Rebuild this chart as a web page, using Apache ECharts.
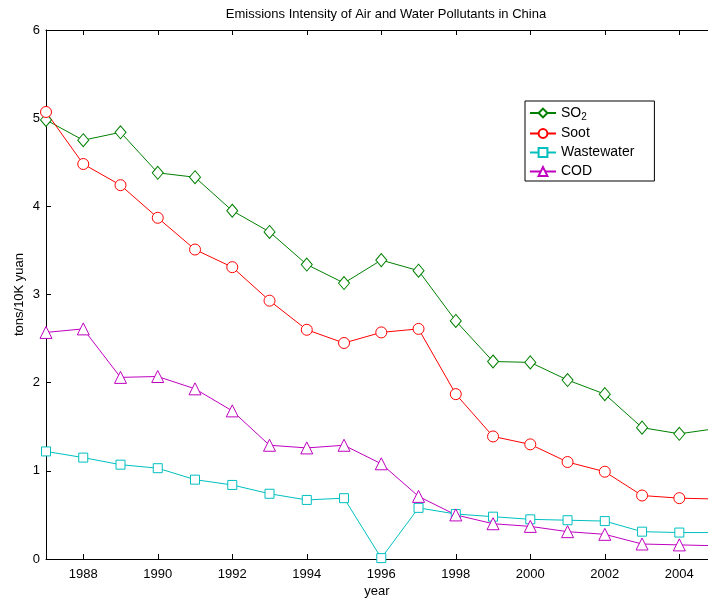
<!DOCTYPE html>
<html>
<head>
<meta charset="utf-8">
<title>Emissions Intensity</title>
<script src="https://cdn.jsdelivr.net/npm/echarts@6/dist/echarts.min.js"></script>
<style>
  html, body { margin: 0; padding: 0; background: #fff; }
  #chart { width: 708px; height: 598px; }
</style>
</head>
<body>
<div id="chart"></div>
<script>
// values (tons per 10K yuan)
const years = [1987, 1988, 1989, 1990, 1991, 1992, 1993, 1994, 1995, 1996,
  1997, 1998, 1999, 2000, 2001, 2002, 2003, 2004, 2005]
const xTicks = [1988, 1990, 1992, 1994, 1996, 1998, 2000, 2002, 2004]

const so2 = [4.98, 4.75, 4.84, 4.38, 4.33, 3.95, 3.71, 3.34, 3.13, 3.39,
  3.27, 2.70, 2.24, 2.23, 2.03, 1.87, 1.49, 1.42, 1.48]
const soot = [5.07, 4.48, 4.24, 3.87, 3.51, 3.31, 2.93, 2.60, 2.45, 2.57,
  2.61, 1.87, 1.39, 1.30, 1.10, 0.99, 0.72, 0.69, 0.68]
const wastewater = [1.22, 1.15, 1.07, 1.03, 0.90, 0.84, 0.74, 0.67, 0.69, 0.01,
  0.58, 0.51, 0.48, 0.45, 0.44, 0.43, 0.31, 0.30, 0.30]
const cod = [2.57, 2.61, 2.06, 2.07, 1.93, 1.68, 1.29, 1.26, 1.29, 1.08,
  0.71, 0.50, 0.40, 0.37, 0.31, 0.28, 0.17, 0.16, 0.15]

const font = 'Liberation Sans, Arial, Helvetica, sans-serif'

// the original figure is cut off on the right, a bit short of 2005
const xMin = 1987
const xMax = 2004.77

const chart = echarts.init(document.getElementById('chart'))

const makeSeries = (name, values, color, symbol, size) => ({
  name,
  type: 'line',
  data: years.map((y, i) => [y, values[i]]),
  symbol,
  symbolSize: size,
  showAllSymbol: true,
  clip: true,
  color,
  lineStyle: { color, width: 1 },
  itemStyle: { color: '#fff', borderColor: color, borderWidth: 1 },
  emphasis: { disabled: true },
  animation: false
})

const option = {
  animation: false,
  textStyle: { fontFamily: font },
  title: {
    text: 'Emissions Intensity of Air and Water Pollutants in China',
    left: 381,
    textAlign: 'center',
    top: 3,
    textStyle: { fontFamily: font, fontSize: 13, fontWeight: 'normal', color: '#000' }
  },
  grid: { left: 46, right: 0, top: 30, bottom: 39, containLabel: false, outerBoundsMode: 'none' },
  legend: {
    left: 525,
    top: 101,
    orient: 'vertical',
    backgroundColor: '#fff',
    borderColor: '#000',
    borderWidth: 1,
    borderRadius: 0,
    padding: [3, 20, 2, 4],
    itemWidth: 26,
    itemHeight: 11,
    itemGap: 4,
    selectedMode: false,
    formatter: name => name === 'SO2' ? 'SO{sub|2}' : name,
    textStyle: {
      fontFamily: font,
      fontSize: 14,
      lineHeight: 15,
      color: '#000',
      rich: {
        sub: { fontFamily: font, fontSize: 10, lineHeight: 15, color: '#000', padding: [8, 0, 0, 0] }
      }
    }
  },
  xAxis: [{
    type: 'value',
    min: xMin,
    max: xMax,
    name: 'year',
    nameLocation: 'middle',
    nameGap: 26,
    nameMoveOverlap: false,
    nameTextStyle: { fontFamily: font, fontSize: 13, color: '#000' },
    axisLine: { show: true, lineStyle: { color: '#000', width: 1 } },
    axisTick: { show: true, inside: true, length: 5, customValues: xTicks, lineStyle: { color: '#000' } },
    axisLabel: { customValues: xTicks, formatter: v => String(v), fontFamily: font, fontSize: 13, color: '#000', margin: 9 },
    splitLine: { show: false }
  }, {
    type: 'value',
    position: 'top',
    min: xMin,
    max: xMax,
    axisLine: { show: true, onZero: false, lineStyle: { color: '#000', width: 1 } },
    axisTick: { show: true, inside: true, length: 5, customValues: xTicks, lineStyle: { color: '#000' } },
    axisLabel: { show: false },
    splitLine: { show: false }
  }],
  yAxis: {
    type: 'value',
    min: 0,
    max: 6,
    interval: 1,
    name: 'tons/10K yuan',
    nameLocation: 'middle',
    nameGap: 20,
    nameMoveOverlap: false,
    nameTextStyle: { fontFamily: font, fontSize: 13, color: '#000' },
    axisLine: { show: true, lineStyle: { color: '#000', width: 1 } },
    axisTick: { show: true, inside: true, length: 5, lineStyle: { color: '#000' } },
    axisLabel: { fontFamily: font, fontSize: 13, color: '#000', margin: 6 },
    splitLine: { show: false }
  },
  series: [
    makeSeries('SO2', so2, '#008000', 'diamond', [11, 13]),
    makeSeries('Soot', soot, '#ff0000', 'circle', 11),
    makeSeries('Wastewater', wastewater, '#00bfbf', 'rect', 9),
    makeSeries('COD', cod, '#bf00bf', 'triangle', 12)
  ]
}

chart.setOption(option)
</script>
</body>
</html>
